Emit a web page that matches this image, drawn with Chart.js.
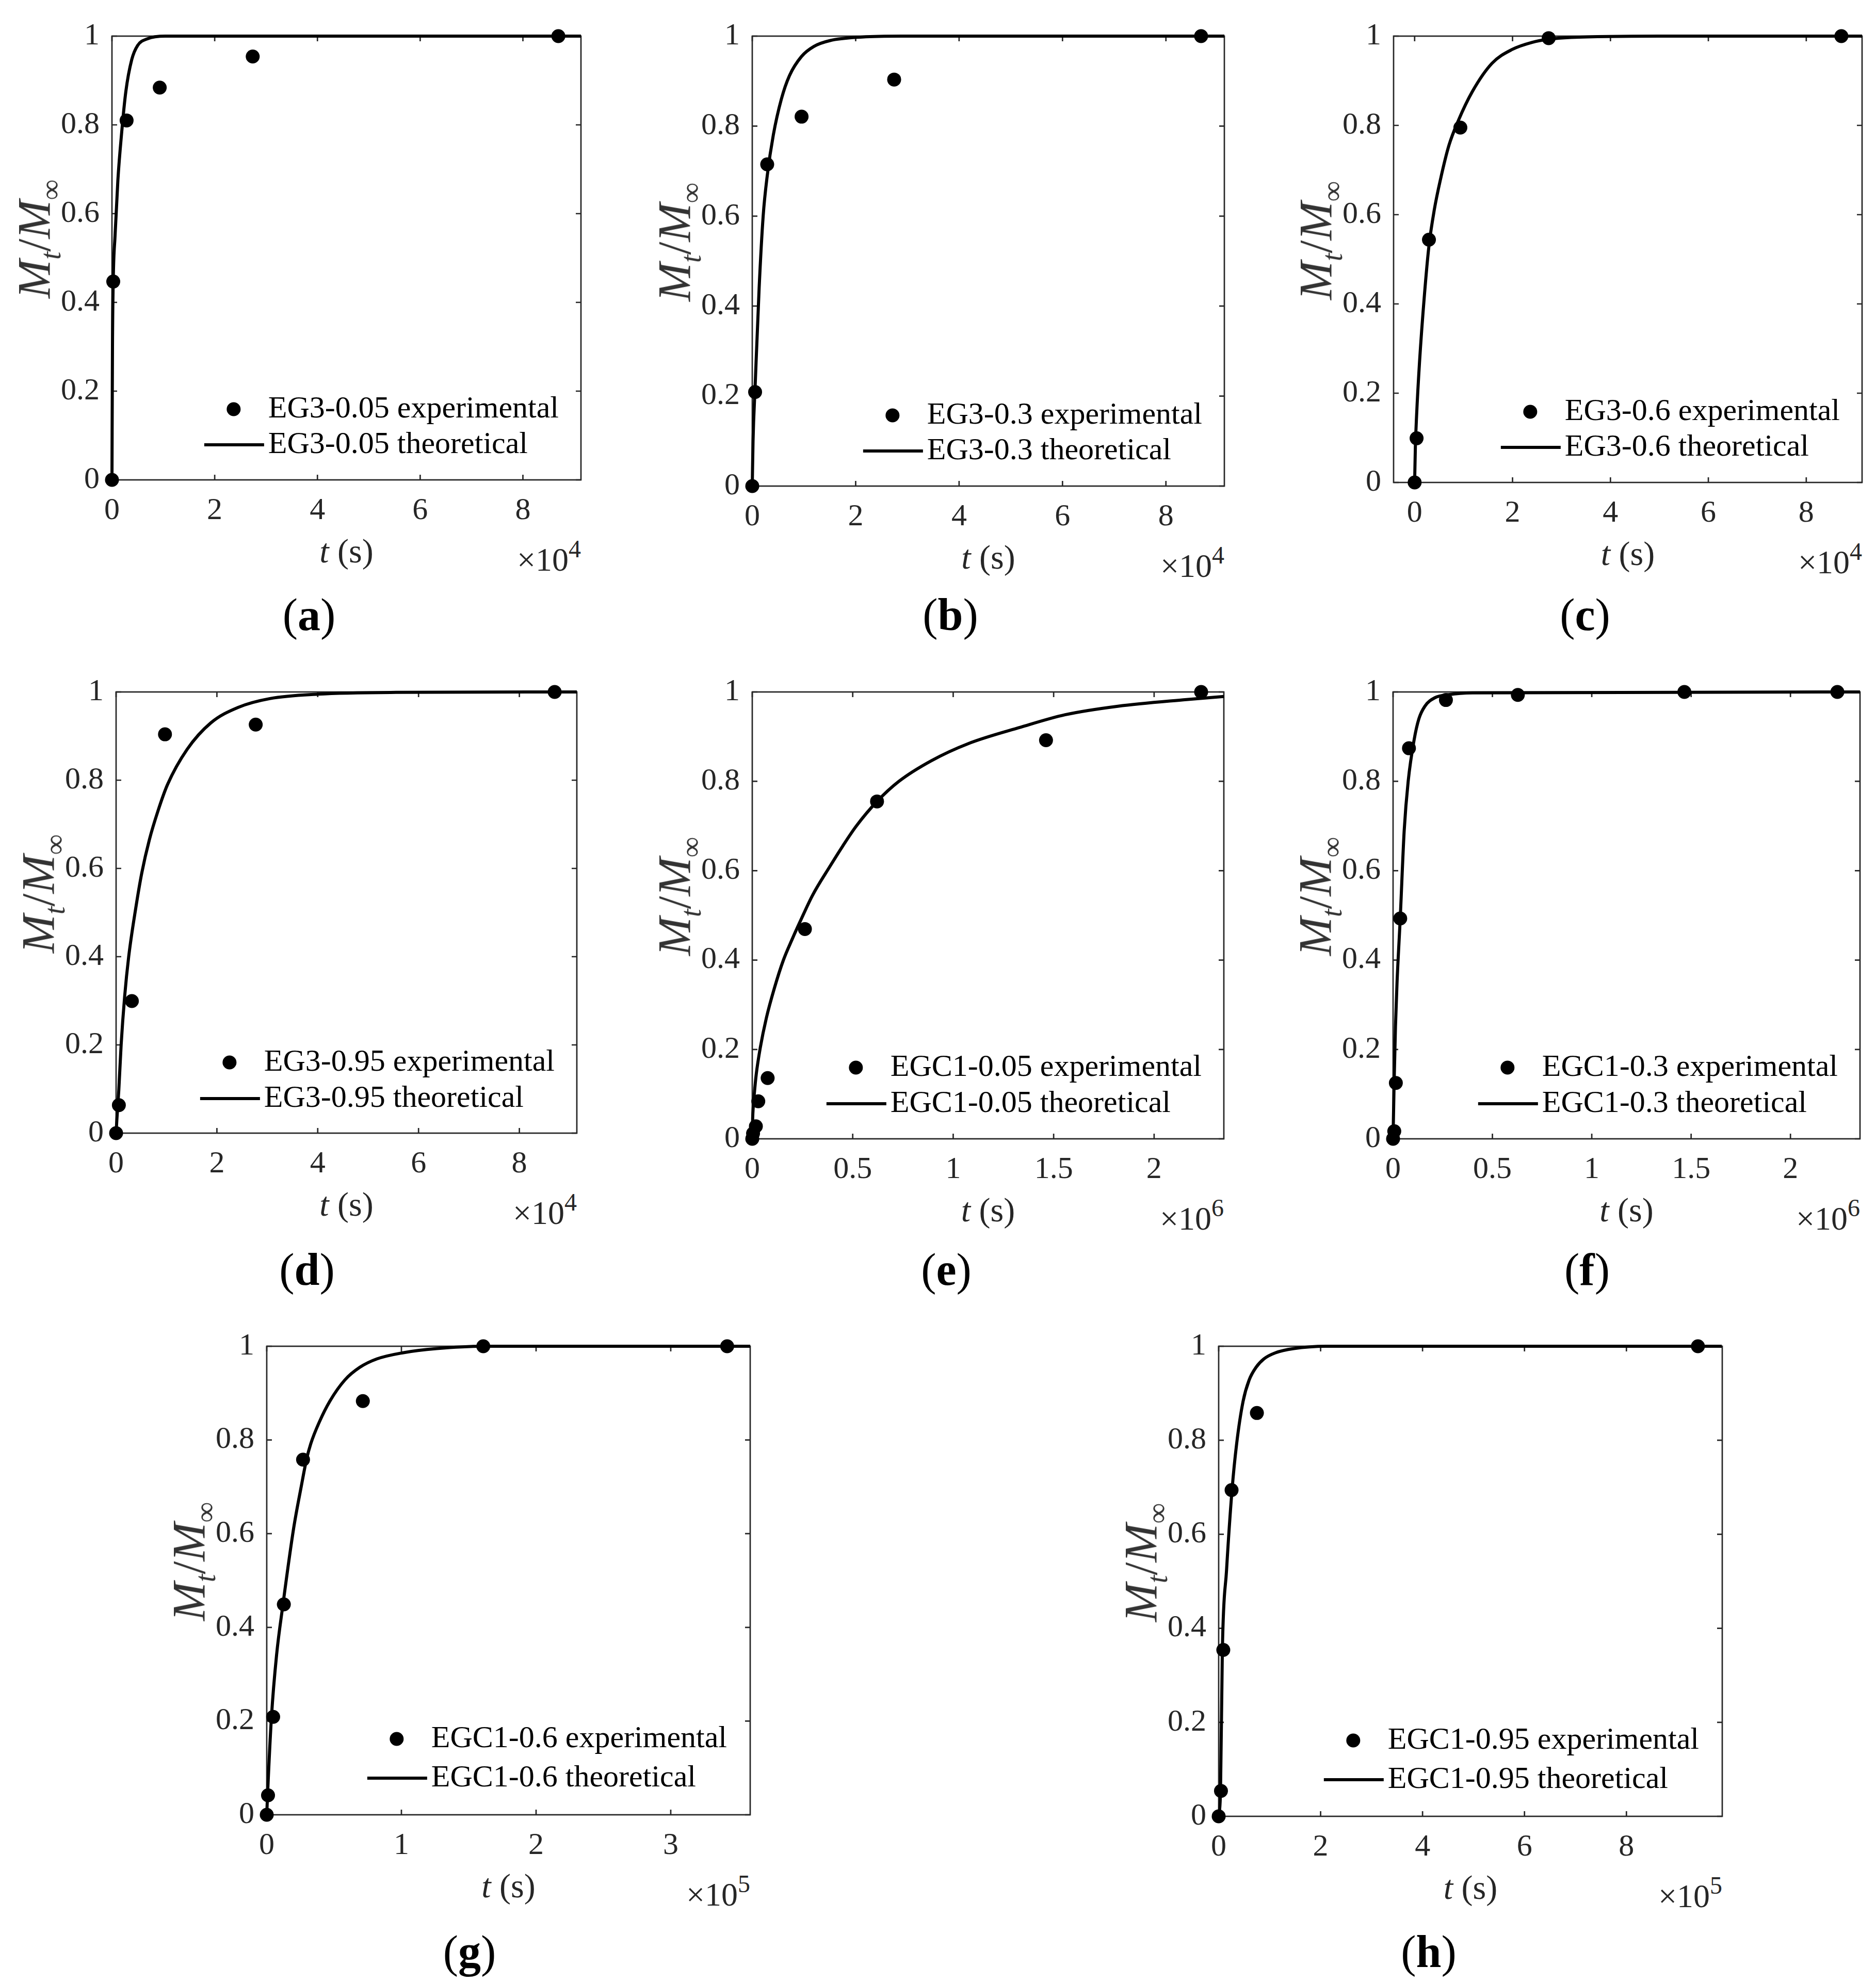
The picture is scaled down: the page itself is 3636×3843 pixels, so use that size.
<!DOCTYPE html>
<html>
<head>
<meta charset="utf-8">
<script src="https://cdn.jsdelivr.net/npm/chart.js"></script>
<style>
html,body{margin:0;padding:0;background:#fff;}
body{width:3636px;height:3843px;position:relative;overflow:hidden;font-family:'Liberation Serif','Times New Roman',serif;}
canvas{position:absolute;}
.lbl{position:absolute;white-space:nowrap;color:#262626;font-family:'Liberation Serif','Times New Roman',serif;}
.tag{font-size:88px;line-height:88px;transform:translate(-50%,-50%);color:#000;}
.xt{font-size:66px;line-height:66px;transform:translate(-50%,-50%);}
.mult{font-size:64px;line-height:64px;}
.mult .sup{font-size:48px;position:relative;top:-26px;}
.yt{font-size:90px;line-height:90px;height:90px;transform:translate(-50%,-50%) rotate(-90deg);color:#333;}
.yt .sb{font-size:56px;position:relative;top:20px;}
</style>
</head>
<body>
<script>
// ---------- tick values and labels ----------
const yTickValues = [0, 0.2, 0.4, 0.6, 0.8, 1];
const yTickLabels = ['0', '0.2', '0.4', '0.6', '0.8', '1'];
const xTicksE4 = [0, 20000, 40000, 60000, 80000];
const xLabelsE4 = ['0', '2', '4', '6', '8'];
const xTicksE6 = [0, 500000, 1000000, 1500000, 2000000];
const xLabelsE6 = ['0', '0.5', '1', '1.5', '2'];
const xTicksG = [0, 100000, 200000, 300000];
const xLabelsG = ['0', '1', '2', '3'];
const xTicksH = [0, 200000, 400000, 600000, 800000];
const xLabelsH = ['0', '2', '4', '6', '8'];

const seriesNames = ['EG3-0.05', 'EG3-0.3', 'EG3-0.6', 'EG3-0.95', 'EGC1-0.05', 'EGC1-0.3', 'EGC1-0.6', 'EGC1-0.95'];

// ---------- (a) EG3-0.05 ----------
const tExpA = [0, 250, 2850, 9300, 27400, 86900];
const yExpA = [0, 0.447, 0.81, 0.884, 0.954, 1.0];
const tThA = [0, 100, 250, 600, 1150, 1900, 2700, 3850, 5000, 6900, 10400, 20000, 91300];
const yThA = [0, 0.3, 0.45, 0.55, 0.675, 0.784, 0.875, 0.947, 0.979, 0.994, 1.0, 1.0, 1.0];

// ---------- (b) EG3-0.3 ----------
const tExpB = [0, 550, 2890, 9540, 27440, 86800];
const yExpB = [0, 0.209, 0.715, 0.821, 0.9035, 1.0];
const tThB = [0, 150, 550, 1330, 2110, 2900, 4070, 5630, 7190, 9540, 11900, 15000, 21300, 29000, 91300];
const yThB = [0, 0.1, 0.22, 0.44, 0.6, 0.69, 0.78, 0.86, 0.912, 0.955, 0.977, 0.99, 0.998, 1.0, 1.0];

// ---------- (c) EG3-0.6 ----------
const tExpC = [0, 400, 2925, 9340, 27380, 87170];
const yExpC = [0, 0.099, 0.544, 0.795, 0.9955, 1.0];
const tThC = [0, 150, 400, 1000, 2000, 2925, 4000, 5300, 7000, 8900, 11800, 15800, 19900, 24000, 27400, 32000, 50000, 91400];
const yThC = [0, 0.08, 0.15, 0.27, 0.42, 0.53, 0.61, 0.68, 0.755, 0.81, 0.876, 0.939, 0.97, 0.986, 0.993, 0.997, 1.0, 1.0];

// ---------- (d) EG3-0.95 ----------
const tExpD = [0, 550, 3130, 9700, 27700, 87000];
const yExpD = [0, 0.0635, 0.2995, 0.904, 0.926, 1.0];
const tThD = [0, 150, 550, 1000, 1700, 2500, 3900, 5100, 6600, 8300, 10200, 14100, 18800, 24200, 30500, 40000, 55500, 91400];
const yThD = [0, 0.03, 0.1, 0.2, 0.31, 0.40, 0.51, 0.59, 0.665, 0.73, 0.79, 0.87, 0.93, 0.965, 0.985, 0.995, 0.999, 1.0];

// ---------- (e) EGC1-0.05 ----------
const tExpE = [0, 4000, 18000, 30000, 76600, 262000, 621000, 1462000, 2234000];
const yExpE = [0, 0.012, 0.028, 0.084, 0.136, 0.4695, 0.755, 0.892, 1.0];
const tThE = [0, 2000, 5000, 10000, 20000, 40000, 70000, 110000, 155000, 200000, 236000, 300000, 387000, 450000, 518000, 621000, 730000, 891000, 1073000, 1335000, 1557000, 1819000, 2161000, 2347000];
const yThE = [0, 0.045, 0.072, 0.10, 0.145, 0.204, 0.27, 0.337, 0.4, 0.448, 0.484, 0.545, 0.61, 0.655, 0.70, 0.755, 0.8, 0.846, 0.884, 0.921, 0.949, 0.968, 0.983, 0.99];

// ---------- (f) EGC1-0.3 ----------
const tExpF = [0, 6000, 14000, 36000, 80000, 266000, 628000, 1466000, 2236000];
const yExpF = [0, 0.017, 0.125, 0.493, 0.874, 0.982, 0.9934, 1.0, 1.0];
const tThF = [0, 5000, 12000, 20000, 36000, 56000, 76000, 106000, 130000, 160000, 210000, 280000, 400000, 2350000];
const yThF = [0, 0.12, 0.25, 0.35, 0.493, 0.69, 0.8, 0.893, 0.94, 0.968, 0.987, 0.994, 0.998, 1.0];

// ---------- (g) EGC1-0.6 ----------
const tExpG = [0, 950, 4760, 12690, 26960, 71360, 160800, 341900];
const yExpG = [0, 0.0415, 0.209, 0.449, 0.758, 0.883, 1.0, 1.0];
const tThG = [0, 700, 3500, 7300, 12050, 20000, 25700, 29500, 32700, 39000, 46900, 58000, 69100, 81800, 100900, 126200, 161100, 359000];
const yThG = [0, 0.05, 0.209, 0.341, 0.449, 0.612, 0.702, 0.758, 0.792, 0.838, 0.883, 0.928, 0.955, 0.973, 0.986, 0.995, 1.0, 1.0];

// ---------- (h) EGC1-0.95 ----------
const tExpH = [0, 4500, 9040, 25300, 75000, 940300];
const yExpH = [0, 0.054, 0.354, 0.694, 0.858, 1.0];
const tThH = [0, 3600, 7230, 15400, 26200, 35300, 47900, 59700, 73200, 88600, 111200, 147400, 210700, 987000];
const yThH = [0, 0.054, 0.354, 0.523, 0.694, 0.793, 0.883, 0.928, 0.955, 0.973, 0.986, 0.995, 1.0, 1.0];

// ---------- layout (positions only) ----------
const panels = [
  {tag:'a', name:seriesNames[0], tExp:tExpA, yExp:yExpA, tTh:tThA, yTh:yThA, xTicks:xTicksE4, xLabels:xLabelsE4, xMin:0, xMax:91300, pow:'4', rect:[217,50,1126,930], tagPos:[599,1192], leg:[68,69,43]},
  {tag:'b', name:seriesNames[1], tExp:tExpB, yExp:yExpB, tTh:tThB, yTh:yThB, xTicks:xTicksE4, xLabels:xLabelsE4, xMin:0, xMax:91300, pow:'4', rect:[1458,50,2373,942], tagPos:[1842,1192], leg:[68,69,43]},
  {tag:'c', name:seriesNames[2], tExp:tExpC, yExp:yExpC, tTh:tThC, yTh:yThC, xTicks:xTicksE4, xLabels:xLabelsE4, xMin:-4300, xMax:91400, pow:'4', rect:[2701,50,3609,935], tagPos:[3072,1192], leg:[68,69,43]},
  {tag:'d', name:seriesNames[3], tExp:tExpD, yExp:yExpD, tTh:tThD, yTh:yThD, xTicks:xTicksE4, xLabels:xLabelsE4, xMin:0, xMax:91400, pow:'4', rect:[225,1321,1118,2196], tagPos:[595,2461], leg:[67,70,43]},
  {tag:'e', name:seriesNames[4], tExp:tExpE, yExp:yExpE, tTh:tThE, yTh:yThE, xTicks:xTicksE6, xLabels:xLabelsE6, xMin:0, xMax:2347000, pow:'6', rect:[1458,1321,2372,2207], tagPos:[1834,2461], leg:[68,70,43]},
  {tag:'f', name:seriesNames[5], tExp:tExpF, yExp:yExpF, tTh:tThF, yTh:yThF, xTicks:xTicksE6, xLabels:xLabelsE6, xMin:0, xMax:2350000, pow:'6', rect:[2700,1321,3605,2207], tagPos:[3076,2461], leg:[68,70,43]},
  {tag:'g', name:seriesNames[6], tExp:tExpG, yExp:yExpG, tTh:tThG, yTh:yThG, xTicks:xTicksG, xLabels:xLabelsG, xMin:0, xMax:359000, pow:'5', rect:[517,2589,1454,3517], tagPos:[910,3783], leg:[71,76,45]},
  {tag:'h', name:seriesNames[7], tExp:tExpH, yExp:yExpH, tTh:tThH, yTh:yThH, xTicks:xTicksH, xLabels:xLabelsH, xMin:0, xMax:988000, pow:'5', rect:[2362,2589,3338,3520], tagPos:[2769,3783], leg:[71,76,45]}
];

const FONT = "'Liberation Serif', 'Times New Roman', serif";
const TXT = '#262626';

function makeDecor(cfg) {
  return {
    id: 'decor' + cfg.tag,
    beforeDatasetsDraw(chart) {
      const {ctx, chartArea, scales} = chart;
      const {left, top, right, bottom} = chartArea;
      ctx.save();
      ctx.strokeStyle = TXT;
      ctx.lineWidth = 2.7;
      ctx.strokeRect(left, top, right - left, bottom - top);
      ctx.beginPath();
      cfg.xTicks.forEach(v => {
        const px = scales.x.getPixelForValue(v);
        ctx.moveTo(px, bottom); ctx.lineTo(px, bottom - 10);
        ctx.moveTo(px, top); ctx.lineTo(px, top + 10);
      });
      yTickValues.forEach(v => {
        const py = scales.y.getPixelForValue(v);
        ctx.moveTo(left, py); ctx.lineTo(left + 10, py);
        ctx.moveTo(right, py); ctx.lineTo(right - 10, py);
      });
      ctx.stroke();
      ctx.restore();
    },
    afterDatasetsDraw(chart) {
      const {ctx, chartArea} = chart;
      const {right, bottom} = chartArea;
      const [row2, gap, inset] = cfg.leg;
      const ds = chart.data.datasets;
      ctx.save();
      ctx.font = '60px ' + FONT;
      const w = Math.max(ctx.measureText(ds[0].label).width, ctx.measureText(ds[1].label).width);
      const tx = right - inset - w;
      const y2 = bottom - row2, y1 = y2 - gap;
      ctx.fillStyle = '#000';
      ctx.beginPath(); ctx.arc(tx - 67, y1, 13.5, 0, Math.PI * 2); ctx.fill();
      ctx.strokeStyle = '#000'; ctx.lineWidth = 6;
      ctx.beginPath(); ctx.moveTo(tx - 124, y2); ctx.lineTo(tx - 8, y2); ctx.stroke();
      ctx.textBaseline = 'middle'; ctx.textAlign = 'left';
      ctx.fillText(ds[0].label, tx, y1);
      ctx.fillText(ds[1].label, tx, y2);
      ctx.restore();
    }
  };
}

const WY = 170, PADT = 40, PADR = 40, HX = 100;

panels.forEach(cfg => {
  const [L, T, R, B] = cfg.rect;
  const canvas = document.createElement('canvas');
  canvas.width = WY + (R - L) + PADR;
  canvas.height = PADT + (B - T) + HX;
  canvas.style.left = (L - WY) + 'px';
  canvas.style.top = (T - PADT) + 'px';
  canvas.style.width = canvas.width + 'px';
  canvas.style.height = canvas.height + 'px';
  document.body.appendChild(canvas);

  new Chart(canvas, {
    type: 'scatter',
    data: {
      datasets: [
        {
          label: cfg.name + ' experimental',
          data: cfg.tExp.map((t, i) => ({x: t, y: cfg.yExp[i]})),
          pointRadius: 13.5, pointHoverRadius: 13.5,
          pointBackgroundColor: '#000', pointBorderWidth: 0, pointBorderColor: '#000',
          showLine: false, clip: false, order: 0
        },
        {
          type: 'line',
          label: cfg.name + ' theoretical',
          data: cfg.tTh.map((t, i) => ({x: t, y: cfg.yTh[i]})),
          borderColor: '#000', borderWidth: 6, pointRadius: 0, pointHoverRadius: 0,
          cubicInterpolationMode: 'monotone', fill: false, clip: false, order: 1
        }
      ]
    },
    options: {
      responsive: false,
      animation: false,
      events: [],
      devicePixelRatio: 1,
      layout: {padding: {top: PADT, right: PADR, left: 0, bottom: 0}},
      plugins: {legend: {display: false}, tooltip: {enabled: false}},
      scales: {
        x: {
          type: 'linear', min: cfg.xMin, max: cfg.xMax,
          grid: {display: false, drawTicks: false, tickLength: 0},
          border: {display: false},
          ticks: {
            font: {family: FONT, size: 60}, color: TXT, padding: 24,
            maxRotation: 0, minRotation: 0, autoSkip: false,
            callback: (v, i) => cfg.xLabels[i]
          },
          afterBuildTicks: s => { s.ticks = cfg.xTicks.map(v => ({value: v})); },
          afterFit: s => { s.height = HX; }
        },
        y: {
          type: 'linear', min: 0, max: 1,
          grid: {display: false, drawTicks: false, tickLength: 0},
          border: {display: false},
          ticks: {
            font: {family: FONT, size: 60}, color: TXT, padding: 24, autoSkip: false,
            callback: (v, i) => yTickLabels[i]
          },
          afterBuildTicks: s => { s.ticks = yTickValues.map(v => ({value: v})); },
          afterFit: s => { s.width = WY; }
        }
      }
    },
    plugins: [makeDecor(cfg)]
  });

  const xt = document.createElement('div');
  xt.className = 'lbl xt';
  xt.style.left = ((L + R) / 2) + 'px';
  xt.style.top = (B + 138) + 'px';
  xt.innerHTML = '<i>t</i> (s)';
  document.body.appendChild(xt);

  const mult = document.createElement('div');
  mult.className = 'lbl mult';
  mult.style.right = (3636 - R) + 'px';
  mult.style.top = (B + 155 - 32) + 'px';
  mult.innerHTML = '×10<span class="sup">' + cfg.pow + '</span>';
  document.body.appendChild(mult);

  const yt = document.createElement('div');
  yt.className = 'lbl yt';
  yt.style.left = (L - 150) + 'px';
  yt.style.top = ((T + B) / 2 - 27) + 'px';
  yt.innerHTML = '<i>M</i><i class="sb">t</i>/<i>M</i><span class="sb">∞</span>';
  document.body.appendChild(yt);

  const tg = document.createElement('div');
  tg.className = 'lbl tag';
  tg.style.left = cfg.tagPos[0] + 'px';
  tg.style.top = cfg.tagPos[1] + 'px';
  tg.innerHTML = '(<b>' + cfg.tag + '</b>)';
  document.body.appendChild(tg);
});
</script>
</body>
</html>
